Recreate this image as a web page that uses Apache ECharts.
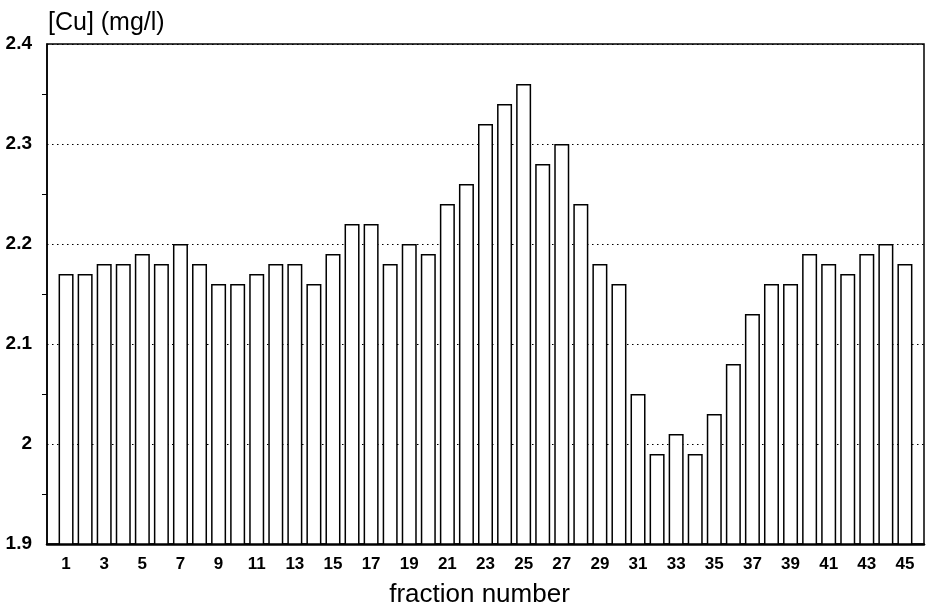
<!DOCTYPE html>
<html><head><meta charset="utf-8">
<script src="https://cdn.jsdelivr.net/npm/echarts@6/dist/echarts.min.js"></script>
<style>html,body{margin:0;padding:0;background:#fff}#c{width:927px;height:613px}</style>
</head><body><div id="c"></div>
<script>
const fractions = [1,2,3,4,5,6,7,8,9,10,11,12,13,14,15,16,17,18,19,20,21,22,23,24,25,26,27,28,29,30,31,32,33,34,35,36,37,38,39,40,41,42,43,44,45];
const cu = [2.17,2.17,2.18,2.18,2.19,2.18,2.20,2.18,2.16,2.16,2.17,2.18,2.18,2.16,2.19,2.22,2.22,2.18,2.20,2.19,2.24,2.26,2.32,2.34,2.36,2.28,2.30,2.24,2.18,2.16,2.05,1.99,2.01,1.99,2.03,2.08,2.13,2.16,2.16,2.19,2.18,2.17,2.19,2.20,2.18];
const xTickLabels = [1,3,5,7,9,11,13,15,17,19,21,23,25,27,29,31,33,35,37,39,41,43,45];
const yTickLabels = ['1.9','2','2.1','2.2','2.3','2.4'];

const chart = echarts.init(document.getElementById('c'), null, {renderer:'canvas'});
const FONT = 'Liberation Sans, Arial, Helvetica, sans-serif';
chart.setOption({
  animation: false,
  backgroundColor: '#fff',
  title: {
    text: '[Cu] (mg/l)', left: 43, top: 6,
    textStyle: {fontFamily: FONT, fontSize: 25, fontWeight: 'normal', color: '#000'}
  },
  grid: {left: 47, top: 44, right: 2, bottom: 69, show: true, borderColor: '#000', borderWidth: 1.5, backgroundColor: 'transparent'},
  xAxis: {
    type: 'value', min: 0, max: 46, interval: 1,
    name: 'fraction number', nameLocation: 'middle', nameGap: 38,
    nameTextStyle: {fontFamily: FONT, fontSize: 26, color: '#000', padding: [0, 12, 0, 0]},
    axisLine: {show: true, lineStyle: {color: '#000', width: 2.5}},
    axisTick: {show: false},
    splitLine: {show: false},
    axisLabel: {
      margin: 12, fontFamily: FONT, fontSize: 17, fontWeight: 'bold', color: '#000',
      formatter: v => xTickLabels.indexOf(v) >= 0 ? String(v) : ''
    }
  },
  yAxis: {
    type: 'value', min: 1.9, max: 2.4, interval: 0.1,
    axisLine: {show: true, lineStyle: {color: '#000', width: 1.5}},
    axisTick: {show: false},
    minorTick: {show: true, splitNumber: 2, length: 5, lineStyle: {color: '#000', width: 1}},
    axisLabel: {
      inside: false, margin: 15, fontFamily: FONT, fontSize: 19, fontWeight: 'bold', color: '#000',
      formatter: v => { const s = yTickLabels.find(t => Math.abs(parseFloat(t) - v) < 1e-6); return s || ''; }
    },
    splitLine: {show: true, lineStyle: {color: '#000', width: 1, type: [1.5, 3.5]}}
  },
  series: [{
    type: 'bar',
    barWidth: 15,
    data: fractions.map((f, i) => [f, cu[i]]),
    itemStyle: {color: '#fff', borderColor: '#000', borderWidth: 1.5},
    silent: true
  }]
});
</script></body></html>
